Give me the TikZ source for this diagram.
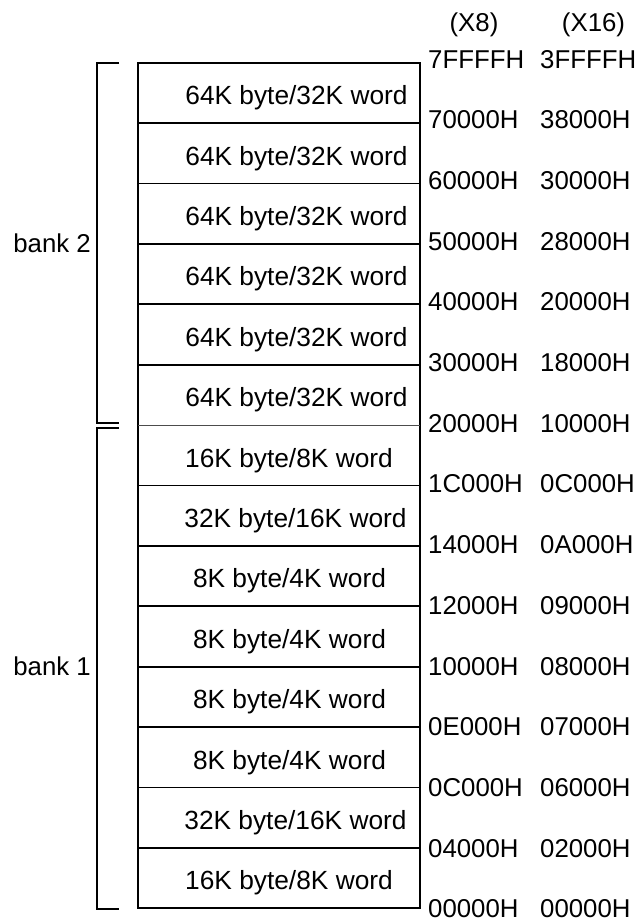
\documentclass[tikz,border=0pt]{standalone}
\usepackage{fontspec}
\setmainfont{Liberation Sans}
\begin{document}
\begin{tikzpicture}[x=1pt,y=-1pt,
  lbl/.style={font=\fontsize{25.8}{30}\selectfont, inner sep=0pt, anchor=base},
  rowlbl/.style={font=\fontsize{26.3}{30}\selectfont, inner sep=0pt, anchor=base},
  rowarea/.style={minimum width=282pt, minimum height=60.4pt, inner sep=0pt, outer sep=0pt},
  boxline/.style={line width=1.8pt},
  thinline/.style={line width=0.9pt, draw=black!70},
  brk/.style={line width=1.8pt}]
\useasboundingbox (0,0) rectangle (639,922);
% rows
\foreach \i/\t/\xc in {1/64K byte\slash 32K word/296.5, 2/64K byte\slash 32K word/296.5, 3/64K byte\slash 32K word/296.5,
  4/64K byte\slash 32K word/296.5, 5/64K byte\slash 32K word/296.5, 6/64K byte\slash 32K word/296.5,
  7/16K byte\slash 8K word/289, 8/32K byte\slash 16K word/295.5, 9/8K byte\slash 4K word/289.5,
  10/8K byte\slash 4K word/289.5, 11/8K byte\slash 4K word/289.5, 12/8K byte\slash 4K word/289.5,
  13/32K byte\slash 16K word/295.5, 14/16K byte\slash 8K word/289}{
  \pgfmathsetmacro{\top}{62.7+(\i-1)*60.4}
  \node[rowarea] (r\i) at (279,\top+30.2) {};
  \node[rowlbl] (t\i) at (\xc,\top+42) {\t};
}
% outer box and dividers
\draw[boxline] (r1.north west) rectangle (r14.south east);
\foreach \i in {1,...,5,7,8,...,13}{
  \draw[boxline] (r\i.south west) -- (r\i.south east);
}
\draw[thinline] (r6.south west) -- (r6.south east);
% addresses
\foreach \i/\a/\b in {0/7FFFFH/3FFFFH, 1/70000H/38000H, 2/60000H/30000H, 3/50000H/28000H,
  4/40000H/20000H, 5/30000H/18000H, 6/20000H/10000H, 7/1C000H/0C000H, 8/14000H/0A000H,
  9/12000H/09000H, 10/10000H/08000H, 11/0E000H/07000H, 12/0C000H/06000H, 13/04000H/02000H,
  14/00000H/00000H}{
  \node[lbl, anchor=base west] (a\i) at (428,68+60.7*\i) {\a};
  \node[lbl, anchor=base west] (b\i) at (540,68+60.7*\i) {\b};
}
\node[lbl] (h8) at (474,31) {(X8)};
\node[lbl] (h16) at (593.5,31) {(X16)};
% brackets
\coordinate (b2t) at (119,63);
\coordinate (b2b) at (119,423);
\coordinate (b1t) at (119,428);
\coordinate (b1b) at (119,909);
\draw[brk] (b2t) -- (97,63) -- (97,423) -- (b2b);
\draw[brk] (b1t) -- (97,428) -- (97,909) -- (b1b);
\node[lbl, anchor=base east] (bank2) at (91,252) {bank 2};
\node[lbl, anchor=base east] (bank1) at (91,675) {bank 1};
\end{tikzpicture}
\end{document}
